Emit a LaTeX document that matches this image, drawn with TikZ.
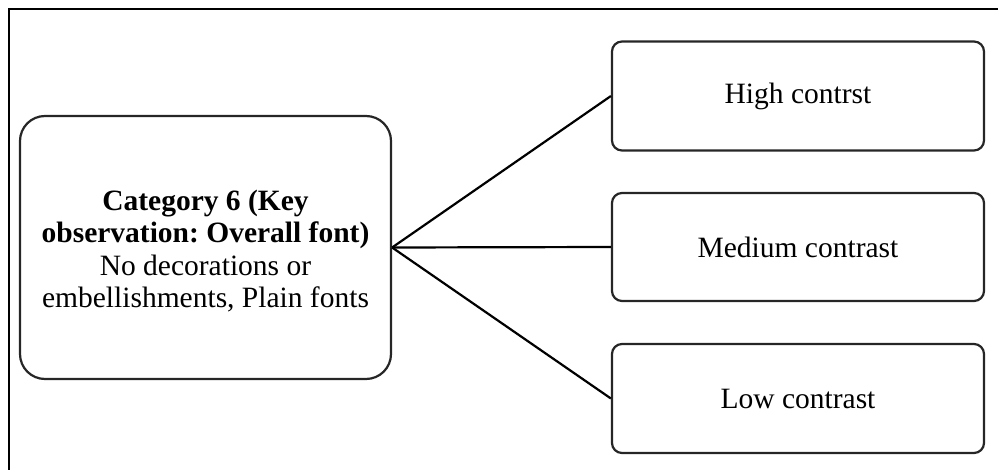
\documentclass[tikz,border=0pt]{standalone}
\usepackage{fontspec}
\setmainfont{Liberation Serif}
\frenchspacing
\begin{document}
\begin{tikzpicture}[x=1pt,y=-1pt,
  mainbox/.style={draw=black!85, line width=2.2pt, rounded corners=25pt},
  maintext/.style={align=center, inner sep=0pt, font=\fontsize{29.5}{32.5}\selectfont},
  leafbox/.style={draw=black!85, line width=2.2pt, rounded corners=10pt, inner sep=0pt, font=\fontsize{29.5}{33}\selectfont},
  link/.style={draw=black, line width=2.2pt}]
\useasboundingbox (0,0) rectangle (998,470);
\draw[line width=2.5pt] (9,470) -- (9,9) -- (998,9);
\node[mainbox, minimum width=371pt, minimum height=263pt] (cat) at (205.5,247.5) {};
\node[maintext] (cattext) at (205.5,251)
  {\textbf{Category 6 (Key}\\
   \textbf{observation: Overall font)}\\
   No decorations or\\
   embellishments, Plain fonts};
\node[leafbox, minimum width=372pt, minimum height=109pt] (high) at (798,96) {High contrst};
\node[leafbox, minimum width=372pt, minimum height=108pt] (med) at (798,247) {Medium contrast};
\node[leafbox, minimum width=372pt, minimum height=109pt] (low) at (798,398.5) {Low contrast};
\draw[link] (cat.east) -- (high.west);
\draw[link] (cat.east) -- (med.west);
\draw[link] (cat.east) -- (low.west);
\end{tikzpicture}
\end{document}
